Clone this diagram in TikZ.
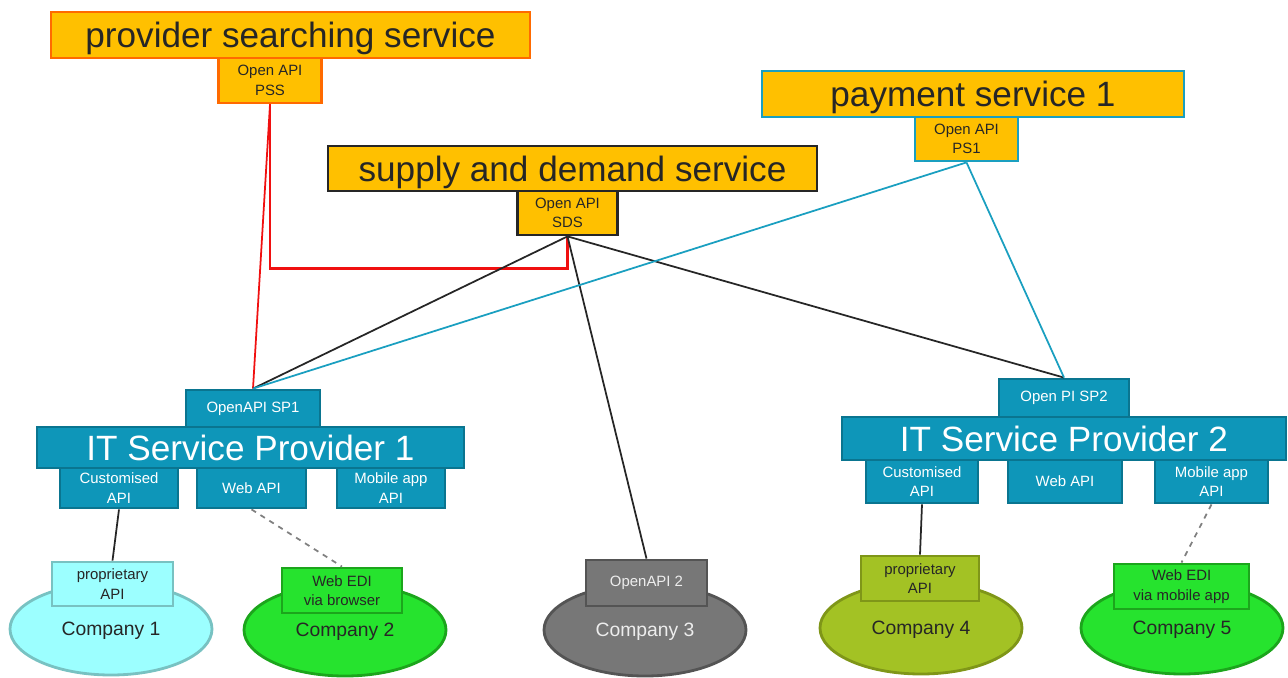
\documentclass[tikz,border=0pt]{standalone}
\usepackage{fontspec}
\setmainfont{Liberation Sans}
\definecolor{svcfill}{HTML}{FFC000}
\definecolor{svcorange}{HTML}{FF6A00}
\definecolor{svcteal}{HTML}{1A9FC0}
\definecolor{spfill}{HTML}{0E96B9}
\definecolor{spline}{HTML}{0A7590}
\definecolor{txt}{HTML}{262626}
\definecolor{pssred}{HTML}{F01010}
\definecolor{cyanfill}{HTML}{9CFFFF}
\definecolor{cyanline}{HTML}{78C2C2}
\definecolor{greenfill}{HTML}{26E32E}
\definecolor{greenline}{HTML}{1CA51C}
\definecolor{greyfill}{HTML}{777777}
\definecolor{greyline}{HTML}{545454}
\definecolor{olivefill}{HTML}{A3C224}
\definecolor{oliveline}{HTML}{7F9618}
\usetikzlibrary{shapes.geometric}
\tikzset{
  boxsize/.style 2 args={minimum width=#1*0.02cm, minimum height=#2*0.02cm},
  service/.style={draw, line width=1.6pt, fill=svcfill, text=txt, font=\fontsize{20}{22}\selectfont, text depth=0pt, inner sep=0pt},
  serviceapi/.style={draw, line width=1.6pt, fill=svcfill, text=txt, font=\fontsize{8.5}{11}\selectfont, align=center, inner sep=0pt},
  provider/.style={draw=spline, line width=1.6pt, fill=spfill, text=white, font=\fontsize{20}{22}\selectfont, inner sep=0pt},
  providerapi/.style={draw=spline, line width=1.6pt, fill=spfill, text=white, font=\fontsize{8.5}{11}\selectfont, align=center, inner sep=0pt},
  company/.style={ellipse, line width=1.6pt, boxsize={202}{92}, text=txt, font=\fontsize{11}{13}\selectfont, text depth=0pt, inner sep=0pt},
  companyapi/.style={line width=1.6pt, text=txt, font=\fontsize{8.5}{11}\selectfont, align=center, inner sep=0pt},
  link/.style={line width=1pt},
  weblink/.style={line width=1pt, draw=gray, dashed}
}
\begin{document}
\begin{tikzpicture}[x=0.02cm, y=-0.02cm]
  \useasboundingbox (0,0) rectangle (1288,677);
  % services
  \draw
    (290.5,35) node[service, draw=svcorange, boxsize={479}{46}] (pss){provider searching service}
    (270,80.5) node[serviceapi, draw=svcorange, boxsize={103}{45}] (pssapi){Open API\\PSS}
    (572.5,168.5) node[service, draw=txt, boxsize={489}{45}] (sds){supply and demand service}
    (567.5,213) node[serviceapi, draw=txt, boxsize={100}{44}] (sdsapi){Open API\\SDS}
    (973,94) node[service, draw=svcteal, boxsize={422}{46}] (ps){payment service 1}
    (966.5,139) node[serviceapi, draw=svcteal, boxsize={103}{44}] (psapi){Open API\\PS1};
  % IT service providers
  \draw
    (253,409) node[providerapi, boxsize={134}{38}] (sp1api){OpenAPI SP1}
    (250.5,447.5) node[provider, boxsize={427}{41}] (sp1){IT Service Provider 1}
    (119,488) node[providerapi, boxsize={118}{40}] (sp1a){Customised\\API}
    (251.5,488) node[providerapi, boxsize={109}{40}] (sp1b){Web API}
    (391,488) node[providerapi, boxsize={108}{40}] (sp1c){Mobile app\\API}
    (1064,398) node[providerapi, boxsize={130}{38}] (sp2api){Open PI SP2}
    (1064,438.5) node[provider, boxsize={444}{43}] (sp2){IT Service Provider 2}
    (922,481.5) node[providerapi, boxsize={112}{43}] (sp2a){Customised\\API}
    (1065,481.5) node[providerapi, boxsize={114}{43}] (sp2b){Web API}
    (1211.5,481.5) node[providerapi, boxsize={113}{43}] (sp2c){Mobile app\\API};
  % companies
  \draw
    (111,629) node[company, draw=cyanline, fill=cyanfill] (c1){Company 1}
    (345,630) node[company, draw=greenline, fill=greenfill] (c2){Company 2}
    (645,630) node[company, draw=greyline, fill=greyfill, text=white!93!black] (c3){Company 3}
    (921,628) node[company, draw=oliveline, fill=olivefill] (c4){Company 4}
    (1182,628) node[company, draw=greenline, fill=greenfill] (c5){Company 5}
    (112.5,584) node[companyapi, draw=cyanline, fill=cyanfill, boxsize={121}{44}] (c1api){proprietary\\API}
    (342,590.5) node[companyapi, draw=greenline, fill=greenfill, boxsize={120}{45}] (c2api){Web EDI\\via browser}
    (646.5,583) node[companyapi, draw=greyline, fill=greyfill, text=white!93!black, boxsize={121}{46}] (c3api){OpenAPI 2}
    (920,578.5) node[companyapi, draw=oliveline, fill=olivefill, boxsize={118}{45}] (c4api){proprietary\\API}
    (1181.5,586.5) node[companyapi, draw=greenline, fill=greenfill, boxsize={135}{45}] (c5api){Web EDI\\via mobile app};
  \coordinate (bend) at (270,268.5);
  \begin{scope}[link]
    \draw[pssred] (pssapi.south) to (sp1api.north);
    \draw[pssred, line width=1.3pt] (pssapi.south) -- (bend) -| (sdsapi.south);
    \draw[txt] (sdsapi.south) to (sp1api.north);
    \draw[txt] (sdsapi.south) to (sp2api.north);
    \draw[txt] (sdsapi.south) to (c3api.north);
    \draw[svcteal] (psapi.south) to (sp1api.north);
    \draw[svcteal] (psapi.south) to (sp2api.north);
    \draw[txt] (sp1a.south) to (c1api.north);
    \draw[txt] (sp2a.south) to (c4api.north);
    \draw[weblink] (sp1b.south) to (c2api.north);
    \draw[weblink] (sp2c.south) to (c5api.north);
  \end{scope}
\end{tikzpicture}
\end{document}
